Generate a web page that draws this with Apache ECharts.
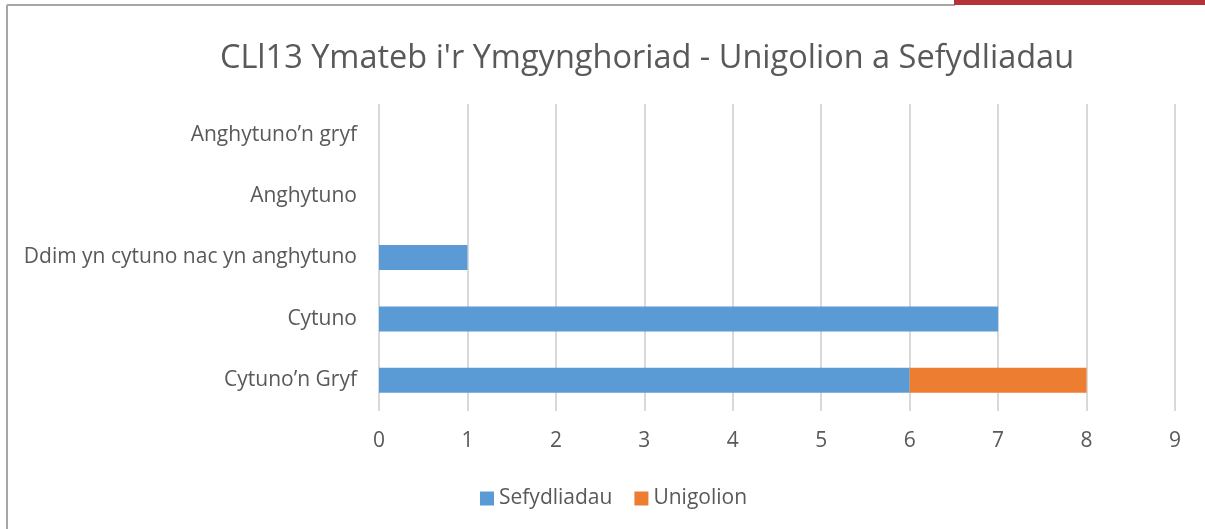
<!DOCTYPE html>
<html>
<head>
<meta charset="utf-8">
<script src="https://cdn.jsdelivr.net/npm/echarts@6/dist/echarts.min.js"></script>
<style>
  html, body { margin: 0; padding: 0; background: #fff; }
  #main { width: 1205px; height: 529px; }
</style>
</head>
<body>
<div id="main"></div>
<script>
// categories, bottom to top as in the picture
var categories = ['Cytuno’n Gryf', 'Cytuno', 'Ddim yn cytuno nac yn anghytuno', 'Anghytuno', 'Anghytuno’n gryf'];
var sefydliadau = [6, 7, 1, 0, 0];
var unigolion = [2, 0, 0, 0, 0];
var xTicks = [0, 1, 2, 3, 4, 5, 6, 7, 8, 9];

var font = 'Open Sans';
var textColor = '#595959';

var myChart = echarts.init(document.getElementById('main'));
myChart.setOption({
    animation: false,
    title: {
        text: 'CLl13 Ymateb i\'r Ymgynghoriad - Unigolion a Sefydliadau',
        left: 642,
        textAlign: 'center',
        top: 37,
        textStyle: { fontFamily: font, fontSize: 32.5, fontWeight: 'normal', color: textColor }
    },
    legend: {
        left: 475,
        top: 483,
        itemWidth: 14,
        itemHeight: 14,
        itemGap: 22,
        icon: 'rect',
        textStyle: { fontFamily: font, fontSize: 21, color: textColor },
        data: ['Sefydliadau', 'Unigolion']
    },
    grid: {
        left: 379,
        right: 30,
        top: 104,
        bottom: 118,
        containLabel: false
    },
    xAxis: {
        type: 'value',
        min: xTicks[0],
        max: xTicks[xTicks.length - 1],
        interval: 1,
        axisLine: { show: false },
        axisTick: { show: false },
        axisLabel: { fontFamily: font, fontSize: 21, color: textColor, margin: 20 },
        splitLine: { lineStyle: { color: '#D9D9D9', width: 2 } }
    },
    yAxis: {
        type: 'category',
        data: categories,
        axisLine: { show: false },
        axisTick: { show: false },
        axisLabel: { fontFamily: font, fontSize: 21, color: textColor, margin: 22 }
    },
    series: [
        {
            name: 'Sefydliadau',
            type: 'bar',
            stack: 'total',
            barWidth: 25,
            itemStyle: { color: '#5B9BD5' },
            data: sefydliadau
        },
        {
            name: 'Unigolion',
            type: 'bar',
            stack: 'total',
            barWidth: 25,
            itemStyle: { color: '#ED7D31' },
            data: unigolion
        }
    ],
    graphic: [
        // chart frame (left and top edges) and the red strip top-right
        { type: 'line', shape: { x1: 7, y1: 5, x2: 7, y2: 529 }, style: { stroke: '#A6A6A6', lineWidth: 2 } },
        { type: 'line', shape: { x1: 7, y1: 5, x2: 955, y2: 5 }, style: { stroke: '#A6A6A6', lineWidth: 2 } },
        { type: 'rect', shape: { x: 954, y: 0, width: 251, height: 5 }, style: { fill: '#B5323A' } }
    ]
});
</script>
</body>
</html>
